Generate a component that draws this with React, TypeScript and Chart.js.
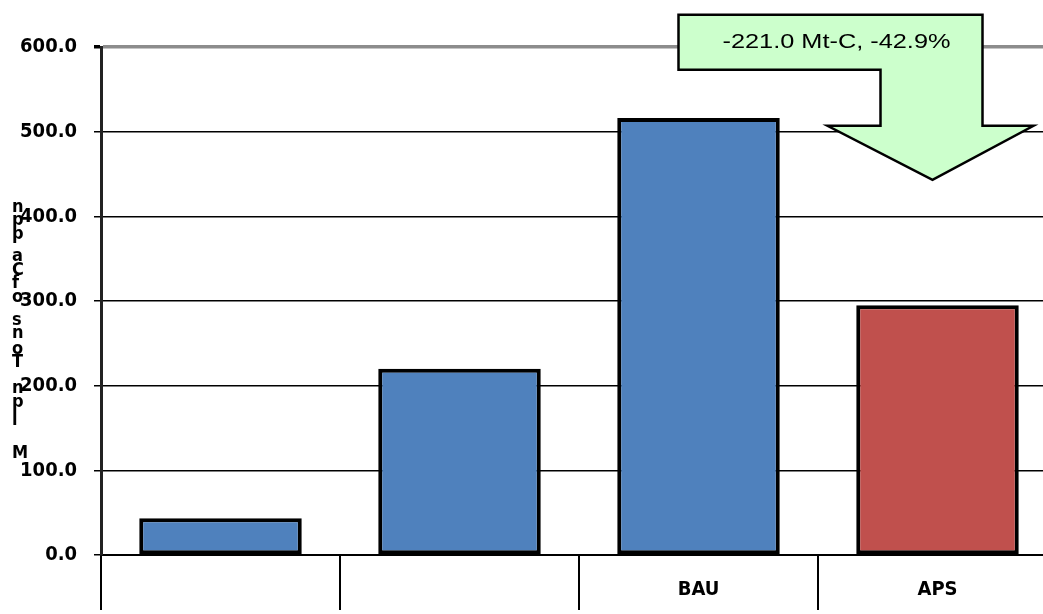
import React, { useEffect, useRef } from "react";
import { Chart, registerables } from "chart.js";

Chart.register(...registerables);

const categories = ["", "", "BAU", "APS"];
const emissions = [43.5, 220.0, 516.0, 295.0];
const barColors = ["#4f81bd", "#4f81bd", "#4f81bd", "#c0504d"];
const yTicks = [0, 100, 200, 300, 400, 500, 600];
const annotationText = "-221.0 Mt-C, -42.9%";
// garbled vertical axis title as it appears (top to bottom) with pixel rows
const yTitleChars = ["n", "p", "p", "a", "C", "f", "o", "s", "n", "o", "T", "n", "p", "l", "M"];
const yTitleRows = [207, 220, 234, 256, 270, 283, 297, 320, 333, 349, 362, 388, 402, 420, 453];

const FONT = "'DejaVu Sans Condensed', 'DejaVu Sans', sans-serif";

const overlayPlugin = {
  id: "overlay",
  afterDraw(chart: any) {
    const ctx = chart.ctx;
    const xs = chart.scales.x;
    const ys = chart.scales.y;
    // y title glyphs
    ctx.save();
    ctx.fillStyle = "#000";
    ctx.font = `bold 18px ${FONT}`;
    ctx.textAlign = "left";
    ctx.textBaseline = "middle";
    yTitleChars.forEach((c, i) => ctx.fillText(c, 12, yTitleRows[i]));
    ctx.restore();

    // arrow annotation anchored to APS category
    const cx = xs.getPixelForValue(3);
    const boxL = cx - 259, boxR = cx + 45, stemL = cx - 57;
    const headL = cx - 110, headR = cx + 96, tipX = cx - 5;
    const boxT = ys.getPixelForValue(638);
    const boxB = ys.getPixelForValue(573);
    const headY = ys.getPixelForValue(507);
    const tipY = ys.getPixelForValue(443);
    ctx.save();
    ctx.beginPath();
    ctx.moveTo(boxL, boxT);
    ctx.lineTo(boxR, boxT);
    ctx.lineTo(boxR, headY);
    ctx.lineTo(headR, headY);
    ctx.lineTo(tipX, tipY);
    ctx.lineTo(headL, headY);
    ctx.lineTo(stemL, headY);
    ctx.lineTo(stemL, boxB);
    ctx.lineTo(boxL, boxB);
    ctx.closePath();
    ctx.fillStyle = "#ccffcc";
    ctx.fill();
    ctx.lineWidth = 2.5;
    ctx.strokeStyle = "#000";
    ctx.lineJoin = "miter";
    ctx.stroke();
    ctx.font = "21px 'Liberation Sans', Arial, sans-serif";
    const w = ctx.measureText(annotationText).width;
    const sx = 228 / w;
    ctx.translate(boxL + 158, (boxT + boxB) / 2);
    ctx.scale(sx, 1);
    ctx.fillStyle = "#000";
    ctx.textAlign = "center";
    ctx.textBaseline = "middle";
    ctx.fillText(annotationText, 0, 0);
    ctx.restore();
  },
};

export default function App() {
  const ref = useRef<HTMLCanvasElement | null>(null);
  useEffect(() => {
    if (!ref.current) return;
    const chart = new Chart(ref.current, {
      type: "bar",
      data: {
        labels: categories,
        datasets: [
          {
            data: emissions,
            backgroundColor: barColors,
            borderColor: "#000",
            borderWidth: 4,
            borderSkipped: false,
            barPercentage: 0.68,
            categoryPercentage: 1,
          },
        ],
      },
      options: {
        responsive: false,
        animation: false,
        devicePixelRatio: 1,
        layout: { padding: { left: 0, top: 47, right: 3, bottom: 0 } },
        plugins: { legend: { display: false }, tooltip: { enabled: false } },
        scales: {
          x: {
            offset: true,
            afterFit: (s: any) => {
              s.height = 59;
            },
            grid: {
              display: true,
              offset: true,
              drawOnChartArea: false,
              drawTicks: true,
              tickLength: 55,
              color: "#000",
              lineWidth: 2,
            },
            border: { display: true, color: "#000", width: 2 },
            ticks: {
              color: "#000",
              padding: -32,
              font: { family: FONT, size: 20, weight: "bold" },
              maxRotation: 0,
            },
          },
          y: {
            min: 0,
            max: 600,
            afterFit: (s: any) => {
              s.width = 101;
            },
            afterBuildTicks: (s: any) => {
              s.ticks = yTicks.map((v) => ({ value: v }));
            },
            grid: {
              color: (c: any) => (c.tick && c.tick.value === 600 ? "#8c8c8c" : "#000"),
              lineWidth: (c: any) => (c.tick && c.tick.value === 600 ? 3.5 : 1.5),
              tickLength: 7,
              tickColor: "#000",
            },
            border: { display: true, color: "#222", width: 3 },
            ticks: {
              color: "#000",
              padding: 17,
              font: { family: FONT, size: 20, weight: "bold" },
              callback: (v: any) => Number(v).toFixed(1),
            },
          },
        },
      },
      plugins: [overlayPlugin],
    });
    return () => chart.destroy();
  }, []);
  return (
    <div
      style={{
        position: "fixed",
        left: 0,
        top: 0,
        width: 1043,
        height: 614,
        overflow: "hidden",
        background: "#fff",
      }}
    >
      <canvas ref={ref} width={1060} height={614} style={{ display: "block" }} />
    </div>
  );
}
